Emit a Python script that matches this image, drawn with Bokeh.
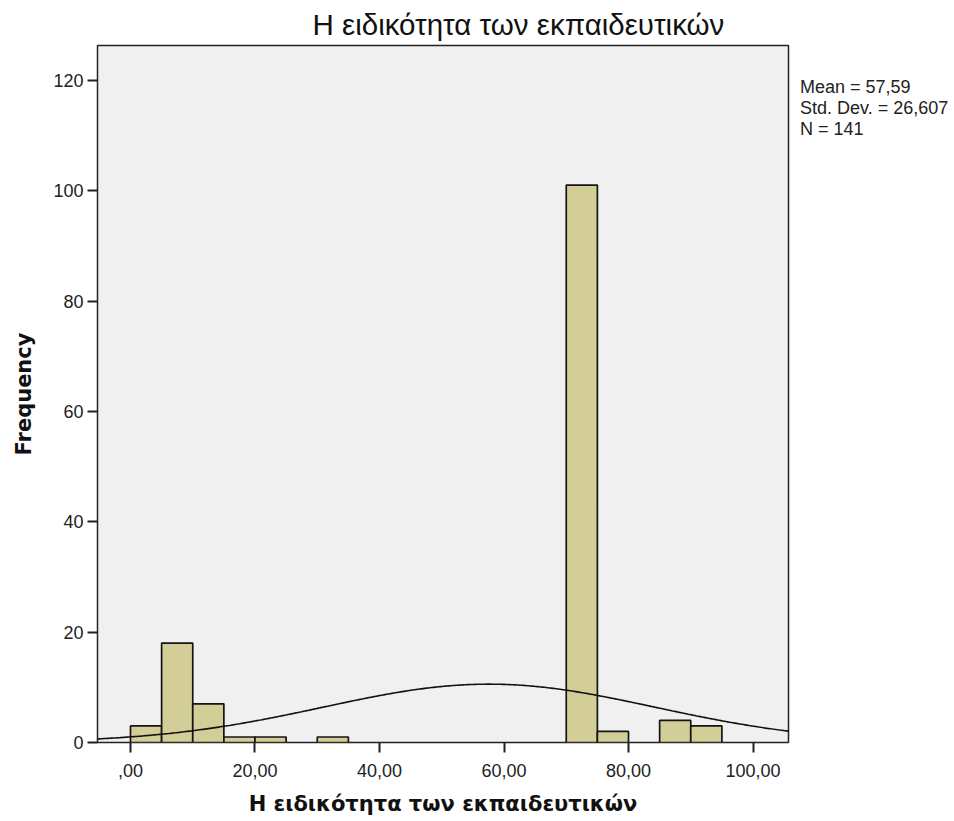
import numpy as np
from bokeh.plotting import figure
from bokeh.models import ColumnDataSource, FixedTicker, Legend, LegendItem
from bokeh.embed import file_html
from bokeh.resources import INLINE

# Histogram bins (width 5) and frequencies
bin_left = [0, 5, 10, 15, 20, 30, 70, 75, 85, 90]
bin_right = [5, 10, 15, 20, 25, 35, 75, 80, 90, 95]
freq = [3, 18, 7, 1, 1, 1, 101, 2, 4, 3]

# Summary statistics (normal curve is drawn from these)
mean = 57.59
std_dev = 26.607
n = 141
bin_width = 5

x_ticks = [0, 20, 40, 60, 80, 100]
x_tick_labels = [",00", "20,00", "40,00", "60,00", "80,00", "100,00"]
y_ticks = [0, 20, 40, 60, 80, 100, 120]

title_text = "Η ειδικότητα των εκπαιδευτικών"
x_label = "Η ειδικότητα των εκπαιδευτικών"
y_label = "Frequency"
stats_lines = ["Mean = 57,59", "Std. Dev. = 26,607", "N = 141"]

FONT = "Liberation Sans"

p = figure(frame_width=691, frame_height=697, x_range=(-5.3, 105.7), y_range=(0, 126.3),
           output_backend="svg", toolbar_location=None,
           min_border_left=97, min_border_right=150, min_border_top=44,
           min_border_bottom=70)
p.background_fill_color = "#F0F0F0"
p.border_fill_color = "white"
p.outline_line_color = "#222222"
p.outline_line_width = 1.5
p.grid.visible = False

src = ColumnDataSource(dict(left=bin_left, right=bin_right, top=freq))
p.quad(left="left", right="right", bottom=0, top="top", source=src,
       fill_color="#D3CE97", line_color="#141414", line_width=1.7)

xs = np.linspace(-5.3, 105.7, 400)
ys = n * bin_width * np.exp(-0.5 * ((xs - mean) / std_dev) ** 2) / (std_dev * np.sqrt(2 * np.pi))
p.line(xs, ys, line_color="#111111", line_width=1.6)

p.title.text = title_text
p.title.text_font = FONT
p.title.text_font_style = "normal"
p.title.text_font_size = "29.5px"
p.title.align = "left"
p.title.offset = 215
p.title.text_color = "#111111"
p.title.standoff = 10

for ax in (p.xaxis, p.yaxis):
    ax.axis_line_color = None
    ax.major_tick_line_color = "#222222"
    ax.major_tick_line_width = 2
    ax.major_tick_in = 0
    ax.major_tick_out = 10
    ax.minor_tick_line_color = None
    ax.major_label_text_font = FONT
    ax.major_label_text_font_size = "18px"
    ax.major_label_text_color = "#222222"
    ax.axis_label_text_font = "DejaVu Sans"
    ax.axis_label_text_font_style = "bold"
    ax.axis_label_text_font_size = "21px"
    ax.axis_label_text_color = "#111111"

p.xaxis.ticker = FixedTicker(ticks=x_ticks)
p.xaxis.major_label_overrides = {t: l for t, l in zip(x_ticks, x_tick_labels)}
p.xaxis.major_label_standoff = 11
p.xaxis.axis_label = x_label
p.xaxis.axis_label_standoff = 12

p.yaxis.ticker = FixedTicker(ticks=y_ticks)
p.yaxis.major_label_standoff = 4
p.yaxis.axis_label = y_label
p.yaxis.axis_label_standoff = 14

# Statistics box as a legend (with invisible glyphs) in the right-hand panel
items = []
for line in stats_lines:
    r = p.scatter([mean], [0], size=0, alpha=0)
    items.append(LegendItem(label=line, renderers=[r]))
legend = Legend(items=items, location=(12, 602), orientation="vertical",
                glyph_width=0, glyph_height=10, label_standoff=0,
                label_text_font=FONT, label_text_font_size="18px",
                label_text_color="#222222", label_height=10, spacing=0,
                padding=0, margin=0, border_line_color=None,
                background_fill_alpha=0)
p.add_layout(legend, "right")

open("out.html", "w").write(file_html(p, INLINE))
